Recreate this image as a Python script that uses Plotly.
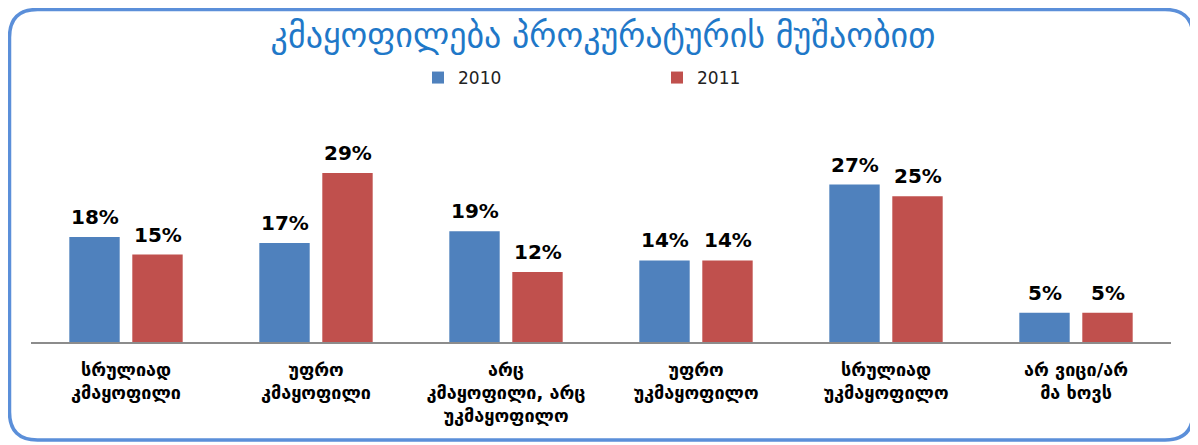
import plotly.graph_objects as go

categories = [
    "სრულიად<br>კმაყოფილი",
    "უფრო<br>კმაყოფილი",
    "არც<br>კმაყოფილი, არც<br>უკმაყოფილო",
    "უფრო<br>უკმაყოფილო",
    "სრულიად<br>უკმაყოფილო",
    "არ ვიცი/არ<br>მა ხოვს",
]
series_names = ["2010", "2011"]
values_2010 = [18, 17, 19, 14, 27, 5]
values_2011 = [15, 29, 12, 14, 25, 5]
colors = ["#4F81BD", "#C0504D"]
title_text = "კმაყოფილება პროკურატურის მუშაობით"

# the page has an 8px body margin; figure coordinates = page coordinates - 8
W, H = 1190, 437
L, R, T, B = 23, 27, 92, 103
pw, ph = W - L - R, H - T - B
PX_PER_UNIT = 5.83
BAR_OFFSET = 31.5  # half of one bar slot (px)

fig = go.Figure()
for name, vals, col in zip(series_names, [values_2010, values_2011], colors):
    fig.add_trace(go.Bar(
        x=categories, y=vals, name=name,
        marker=dict(color=col, line=dict(width=0)),
    ))

annotations = []
for sign, vals in zip([-1, 1], [values_2010, values_2011]):
    for c, v in zip(categories, vals):
        annotations.append(dict(
            x=c, y=v, xref="x", yref="y", text=f"{v}%", showarrow=False,
            xshift=sign * BAR_OFFSET, yshift=6, yanchor="bottom",
            font=dict(family="DejaVu Sans", size=20, color="#000000", weight="bold"),
        ))

def P(x, y):
    a, b = (x - L) / pw, (H - B - y) / ph
    return f"{a:.5f},{b:.5f}"

x0, y0, x1, y1, r = 1.5, 1.5, 1185, 432, 28
path = (f"M {P(x0 + r, y0)} L {P(x1 - r, y0)} Q {P(x1, y0)} {P(x1, y0 + r)} "
        f"L {P(x1, y1 - r)} Q {P(x1, y1)} {P(x1 - r, y1)} "
        f"L {P(x0 + r, y1)} Q {P(x0, y1)} {P(x0, y1 - r)} "
        f"L {P(x0, y0 + r)} Q {P(x0, y0)} {P(x0 + r, y0)} Z")

fig.update_layout(
    width=W, height=H,
    margin=dict(l=L, r=R, t=T, b=B, autoexpand=False),
    paper_bgcolor="white", plot_bgcolor="white",
    barmode="group", bargap=0.337, bargroupgap=0.2,
    showlegend=True,
    legend=dict(orientation="h", x=(410 - L) / pw, xanchor="left",
                y=(H - B - 70) / ph, yanchor="middle",
                entrywidth=194, entrywidthmode="pixels",
                font=dict(family="DejaVu Sans", size=17, color="#222222"),
                bgcolor="rgba(0,0,0,0)"),
    title=dict(text=title_text, x=0.5, xanchor="center", y=1 - 27 / H, yanchor="middle",
               font=dict(family="DejaVu Sans", size=34, color="#1F78C8")),
    xaxis=dict(showline=True, linecolor="#8C8C8C", linewidth=2, ticks="",
               ticklabelstandoff=10,
               tickfont=dict(family="DejaVu Sans", size=18, color="#000000", weight="bold"),
               fixedrange=True),
    yaxis=dict(range=[0, ph / PX_PER_UNIT], visible=False, showgrid=False, zeroline=False),
    annotations=annotations,
    shapes=[dict(type="path", xref="paper", yref="paper", path=path,
                 line=dict(color="#5B8FD9", width=3.5), fillcolor="rgba(0,0,0,0)", layer="above")],
)

fig.write_html("out.html")
